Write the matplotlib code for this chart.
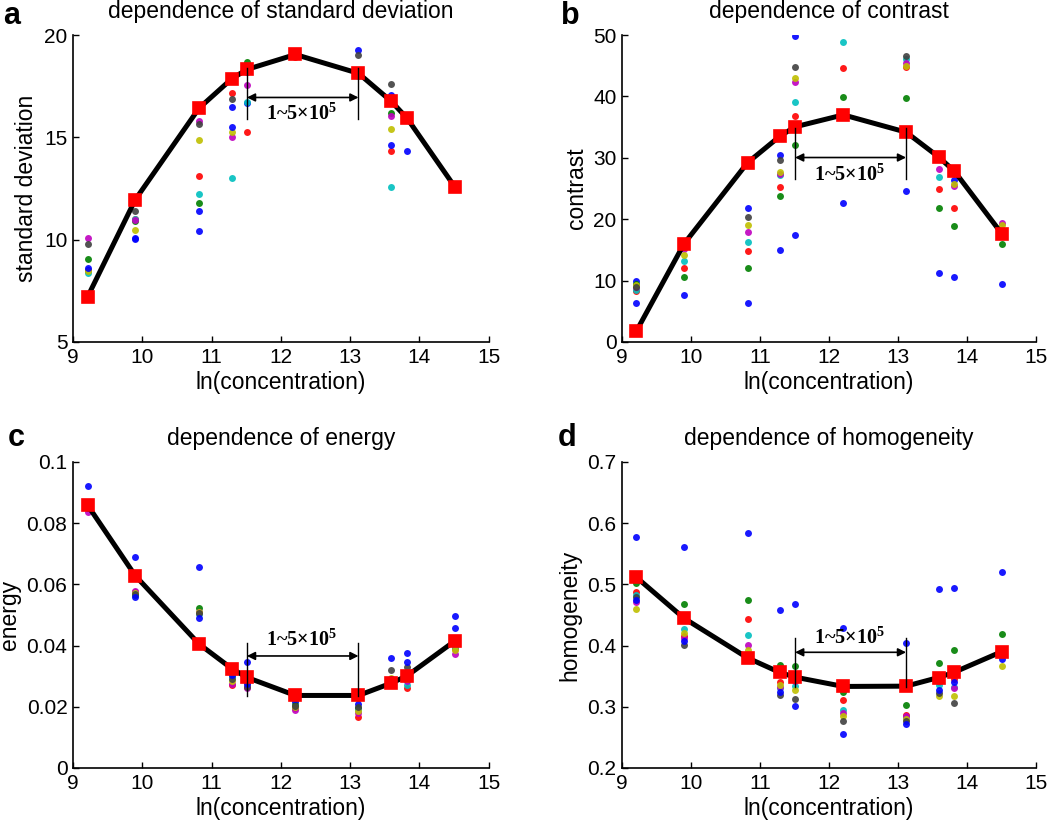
import matplotlib
matplotlib.use("Agg")
import matplotlib.pyplot as plt
from matplotlib.ticker import FormatStrFormatter, FuncFormatter

plt.rcParams["font.family"] = ["Liberation Sans", "DejaVu Sans"]
plt.rcParams["mathtext.fontset"] = "custom"
plt.rcParams["mathtext.rm"] = "Liberation Serif:bold"
plt.rcParams["mathtext.it"] = "Liberation Serif:bold"
plt.rcParams["mathtext.bf"] = "Liberation Serif:bold"

# ln(concentration) for 1e4 ... 2e6
x_ln = [9.21, 9.90, 10.82, 11.29, 11.51, 12.21, 13.12, 13.59, 13.82, 14.51]

# sample colours (MATLAB old ColorOrder, cycling 8 samples)
sample_colors = [(0, 0, 1), (0, 0.5, 0), (1, 0, 0), (0, 0.75, 0.75),
                 (0.75, 0, 0.75), (0.75, 0.75, 0), (0.25, 0.25, 0.25), (0, 0, 1)]

# ---- standard deviation ----
sd_mean = [7.2, 11.96, 16.43, 17.86, 18.32, 19.05, 18.13, 16.77, 15.94, 12.58]
sd_pts = [
    [8.54, 9.06, 8.48, 8.39, 10.10, 8.45, 9.81, 8.60],
    [10.05, 10.90, 11.02, 11.00, 10.95, 10.45, 11.39, 10.07],
    [11.39, 11.78, 13.12, 12.22, 15.81, 14.88, 15.63, 10.40],
    [16.49, 17.90, 17.18, 13.02, 15.03, 15.26, 16.89, 15.50],
    [16.68, 18.70, 15.26, 16.72, 17.55, 18.30, 18.40, 18.20],
    [19.00, 19.10, 18.95, 19.05, 19.00, 18.98, 19.08, 19.02],
    [19.27, 18.20, 18.10, 18.00, 18.15, 18.05, 19.02, 18.10],
    [17.07, 16.20, 14.31, 12.58, 16.05, 15.40, 17.59, 14.64],
    [14.31, 16.00, 15.90, 15.85, 15.95, 15.90, 16.05, 15.90],
    [12.60, 12.55, 12.58, 12.60, 12.56, 12.58, 12.62, 12.57],
]

# ---- contrast ----
ct_mean = [1.8, 16.0, 29.2, 33.53, 35.05, 37.0, 34.18, 30.16, 27.83, 17.61]
ct_pts = [
    [10.0, 9.4, 8.3, 8.53, 8.97, 9.2, 9.0, 6.36],
    [7.61, 10.65, 12.07, 13.2, 15.2, 14.13, 15.5, 15.8],
    [21.9, 12.12, 14.84, 16.36, 17.99, 19.07, 20.38, 6.36],
    [30.38, 23.86, 25.27, 27.17, 27.3, 27.72, 29.62, 14.94],
    [49.78, 32.12, 36.74, 39.13, 42.39, 42.93, 44.78, 17.5],
    [22.61, 39.89, 44.67, 48.80, 36.8, 37.2, 37.5, 37.0],
    [24.67, 39.73, 44.84, 46.09, 45.38, 45.0, 46.58, 34.2],
    [11.3, 21.79, 25.0, 26.9, 28.15, 29.8, 30.5, 30.0],
    [26.36, 18.91, 21.9, 27.5, 25.4, 25.8, 28.0, 10.54],
    [9.40, 15.92, 17.5, 17.8, 19.46, 19.0, 17.6, 17.7],
]

# ---- energy ----
en_mean = [0.0859, 0.0628, 0.0405, 0.0325, 0.0296, 0.0237, 0.0237, 0.0277, 0.0301, 0.0415]
en_pts = [
    [0.0921, 0.0855, 0.0858, 0.0852, 0.0836, 0.0850, 0.0860, 0.0848],
    [0.0689, 0.0565, 0.0575, 0.0573, 0.0579, 0.0571, 0.0568, 0.0559],
    [0.0658, 0.0524, 0.0508, 0.0502, 0.0510, 0.0511, 0.0505, 0.0489],
    [0.0308, 0.0299, 0.0270, 0.0300, 0.0274, 0.0285, 0.0290, 0.0305],
    [0.0347, 0.0285, 0.0265, 0.0280, 0.0260, 0.0275, 0.0263, 0.0274],
    [0.0217, 0.0205, 0.0195, 0.0200, 0.0190, 0.0198, 0.0203, 0.0225],
    [0.0210, 0.0195, 0.0168, 0.0190, 0.0179, 0.0185, 0.0199, 0.0230],
    [0.0358, 0.0285, 0.0270, 0.0280, 0.0275, 0.0293, 0.0321, 0.0290],
    [0.0375, 0.0300, 0.0261, 0.0270, 0.0283, 0.0290, 0.0329, 0.0346],
    [0.0495, 0.0400, 0.0390, 0.0395, 0.0372, 0.0386, 0.0410, 0.0457],
]

# ---- homogeneity ----
hm_mean = [0.5114, 0.4446, 0.3799, 0.356, 0.3484, 0.3332, 0.3337, 0.3478, 0.3565, 0.3902]
hm_pts = [
    [0.5766, 0.5016, 0.488, 0.4826, 0.4717, 0.4603, 0.480, 0.4745],
    [0.5603, 0.4685, 0.415, 0.4272, 0.412, 0.4201, 0.401, 0.407],
    [0.5842, 0.4745, 0.443, 0.4174, 0.4016, 0.393, 0.385, 0.380],
    [0.4587, 0.369, 0.340, 0.330, 0.333, 0.3359, 0.3196, 0.3234],
    [0.4685, 0.3658, 0.345, 0.3332, 0.342, 0.3266, 0.3125, 0.3016],
    [0.4283, 0.3234, 0.3114, 0.294, 0.2897, 0.2842, 0.2761, 0.2554],
    [0.4049, 0.3033, 0.287, 0.282, 0.2853, 0.2804, 0.276, 0.2723],
    [0.4924, 0.3723, 0.340, 0.335, 0.342, 0.318, 0.3223, 0.3277],
    [0.4946, 0.3924, 0.345, 0.333, 0.3299, 0.318, 0.3066, 0.3397],
    [0.5207, 0.419, 0.395, 0.388, 0.392, 0.3668, 0.390, 0.3788],
]

# range bracket 1e5 .. 5e5
range_x = (11.51, 13.12)
range_label = "1~5$\\times$10$^{5}$"


def draw_panel(ax, title, ylabel, mean, pts, ylim, yticks, bracket, text_y, fmt):
    for j, col in enumerate(sample_colors):
        ys = [row[j] for row in pts]
        ax.plot(x_ln, ys, linestyle="none", marker="o", markersize=5,
                color=col, markeredgewidth=0, alpha=0.9, zorder=2)
    ax.plot(x_ln, mean, color="black", linewidth=3.6, zorder=3)
    ax.plot(x_ln, mean, linestyle="none", marker="s", markersize=9,
            color="red", markeredgecolor="red", markeredgewidth=1.2, zorder=4)

    y_lo, y_hi, y_arrow = bracket
    for xv in range_x:
        ax.plot([xv, xv], [y_lo, y_hi], color="black", linewidth=1.0, zorder=5)
    ax.annotate("", xy=(range_x[1], y_arrow), xytext=(range_x[0], y_arrow),
                arrowprops={"arrowstyle": "<|-|>", "lw": 1.2, "color": "black",
                            "shrinkA": 0, "shrinkB": 0, "mutation_scale": 12},
                zorder=5)
    ax.text(12.3, text_y, range_label, ha="center", va="center", fontsize=14.5,
            fontweight="bold", family="Liberation Serif", zorder=6)

    ax.set_xlim(9, 15)
    ax.set_xticks(range(9, 16))
    ax.set_ylim(*ylim)
    ax.set_yticks(yticks)
    ax.yaxis.set_major_formatter(fmt)
    for side in ("top", "right"):
        ax.spines[side].set_visible(False)
    for side in ("left", "bottom"):
        ax.spines[side].set_linewidth(1.2)
    ax.tick_params(direction="in", length=4, width=1.0, labelsize=15, pad=4)
    ax.set_title(title, fontsize=16.5, pad=12)
    ax.set_ylabel(ylabel, fontsize=16.5, labelpad=4)
    ax.set_xlabel("ln(concentration)", fontsize=16.5, labelpad=3)


def main() -> None:
    fig = plt.figure(figsize=(10.5, 8.25), dpi=100)
    fig.patch.set_facecolor("white")

    ax_a = fig.add_axes([0.0695, 0.5855, 0.396, 0.372])
    ax_b = fig.add_axes([0.5924, 0.5855, 0.394, 0.372])
    ax_c = fig.add_axes([0.0695, 0.0691, 0.396, 0.371])
    ax_d = fig.add_axes([0.5924, 0.0691, 0.394, 0.371])

    g_fmt = FuncFormatter(lambda v, _: f"{v:g}")

    draw_panel(ax_a, "dependence of standard deviation", "standard deviation",
               sd_mean, sd_pts, (5, 20), [5, 10, 15, 20], (15.92, 18.37, 16.95), 16.15, g_fmt)
    draw_panel(ax_b, "dependence of contrast", "contrast",
               ct_mean, ct_pts, (0, 50), [0, 10, 20, 30, 40, 50], (26.6, 34.8, 30.05), 27.1, g_fmt)
    draw_panel(ax_c, "dependence of energy", "energy",
               en_mean, en_pts, (0, 0.1), [0, 0.02, 0.04, 0.06, 0.08, 0.1],
               (0.0234, 0.041, 0.0366), 0.0418, g_fmt)
    draw_panel(ax_d, "dependence of homogeneity", "homogeneity",
               hm_mean, hm_pts, (0.2, 0.7), [0.2, 0.3, 0.4, 0.5, 0.6, 0.7],
               (0.333, 0.412, 0.389), 0.412, FormatStrFormatter("%.1f"))

    # panel letters (figure pixel positions, baseline)
    W, H = 1050.0, 825.0
    for letter, px, py in (("a", 3, 24), ("b", 561, 24), ("c", 8, 446), ("d", 558, 446)):
        fig.text(px / W, 1 - py / H, letter, fontsize=22, fontweight="bold",
                 ha="left", va="baseline")

    fig.savefig("out.png", dpi=100, facecolor="white")
    plt.close(fig)


if __name__ == "__main__":
    main()
